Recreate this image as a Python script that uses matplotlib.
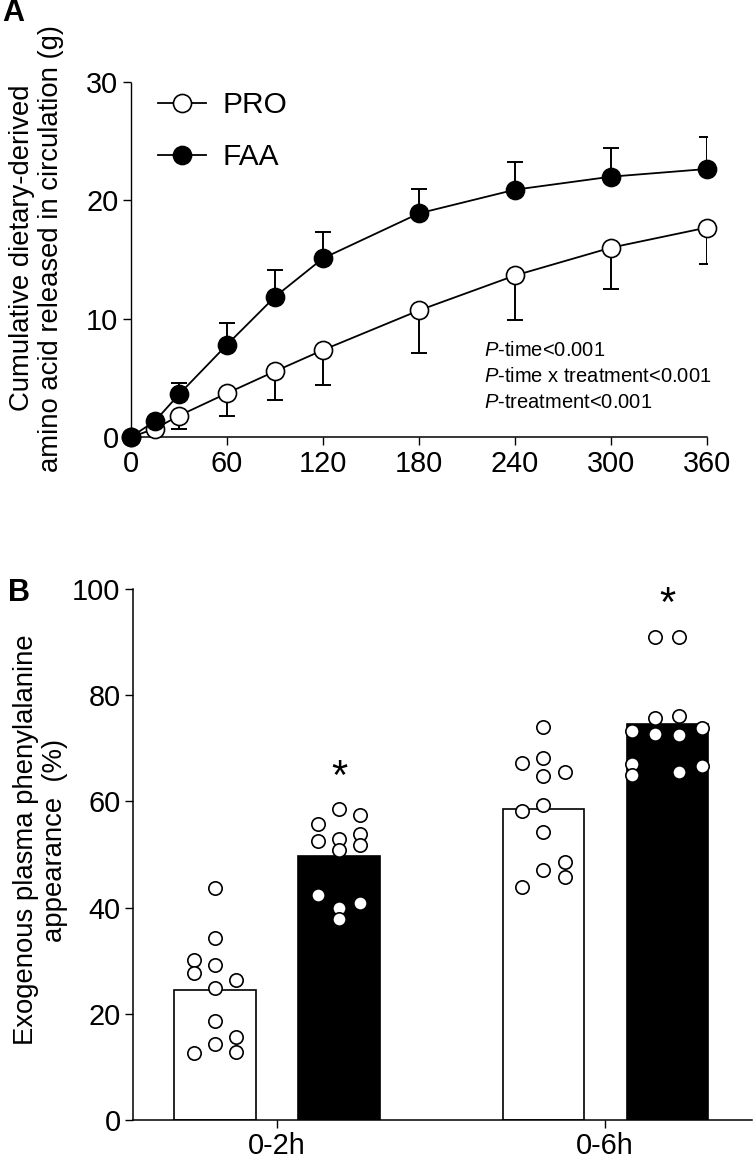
import matplotlib
matplotlib.use("Agg")
import matplotlib.pyplot as plt
import numpy as np

plt.rcParams["font.family"] = ["Liberation Sans", "DejaVu Sans"]
plt.rcParams["mathtext.fontset"] = "custom"
plt.rcParams["mathtext.rm"] = "Liberation Sans"
plt.rcParams["mathtext.it"] = "Liberation Sans:italic"

# ---------------------------------------------------------------------------
# Panel A data: cumulative amino acid release (g)
# ---------------------------------------------------------------------------
time_min = [0, 15, 30, 60, 90, 120, 180, 240, 300, 360]
pro_mean = [0, 0.7, 1.8, 3.7, 5.55, 7.35, 10.7, 13.65, 16.0, 17.7]
pro_sd = [0, 0, 1.1, 1.9, 2.45, 2.95, 3.6, 3.8, 3.5, 3.1]
faa_mean = [0, 1.35, 3.6, 7.8, 11.85, 15.1, 18.9, 20.9, 22.0, 22.65]
faa_sd = [0, 0, 1.0, 1.8, 2.3, 2.2, 2.1, 2.3, 2.45, 2.7]
p_text = ["-time<0.001", "-time x treatment<0.001", "-treatment<0.001"]

# ---------------------------------------------------------------------------
# Panel B data: exogenous plasma phenylalanine appearance (%)
# ---------------------------------------------------------------------------
periods = ["0-2h", "0-6h"]
pro_bar = [24.4, 58.6]
faa_bar = [49.8, 74.5]
pro_02 = [43.6, 34.3, 30.1, 29.1, 27.6, 26.4, 24.8, 18.7, 15.7, 14.3, 12.9, 12.6]
faa_02 = [58.5, 57.4, 55.8, 53.9, 52.5, 52.9, 51.7, 50.8, 42.3, 40.8, 40.0, 37.8]
pro_06 = [74.0, 68.2, 67.3, 65.5, 64.7, 59.3, 58.2, 54.2, 48.6, 47.0, 45.7, 43.8]
faa_06 = [91.0, 90.9, 76.0, 75.7, 73.9, 73.2, 72.6, 72.5, 67.0, 66.7, 65.5, 64.9]
star_y = [64.5, 97.0]

# swarm column slots (layout only)
slot_pro_02 = [0, 0, -1, 0, -1, 1, 0, 0, 1, 0, 1, -1]
slot_faa_02 = [0, 1, -1, 1, -1, 0, 1, 0, -1, 1, 0, 0]
slot_pro_06 = [0, 0, -1, 1, 0, 0, -1, 0, 1, 0, 1, -1]
slot_faa_06 = [-0.55, 0.55, 0.55, -0.55, 1.65, -1.65, -0.55, 0.55, -1.65, 1.65, 0.55, -1.65]

TICK_FS = 20.8
LABEL_FS = 19.8

fig = plt.figure(figsize=(7.53, 11.68), dpi=100)
W, H = 753, 1168


def px_axes(left, top, right, bottom):
    return fig.add_axes([left / W, 1 - bottom / H, (right - left) / W, (bottom - top) / H])


def style_axes(ax):
    for s in ["top", "right"]:
        ax.spines[s].set_visible(False)
    for s in ["left", "bottom"]:
        ax.spines[s].set_linewidth(1.1)
    ax.tick_params(width=1.0, length=6, labelsize=TICK_FS, pad=3, color="black")


# --------------------------- Panel A ----------------------------------------
axA = px_axes(131, 82, 707, 437)
style_axes(axA)
axA.spines["left"].set_linestyle((0, (3, 1)))
axA.spines["left"].set_linewidth(1.0)

axA.errorbar(time_min, faa_mean, yerr=[np.zeros(len(faa_sd)), faa_sd], fmt="none",
             ecolor="black", elinewidth=1.4, capsize=6, capthick=1.4, zorder=2)
axA.errorbar(time_min, pro_mean, yerr=[pro_sd, np.zeros(len(pro_sd))], fmt="none",
             ecolor="black", elinewidth=1.4, capsize=6, capthick=1.4, zorder=2)
axA.plot(time_min, pro_mean, "-o", color="black", lw=1.3, ms=13, mfc="white",
         mec="black", mew=1.2, clip_on=False, zorder=3, label="PRO")
axA.plot(time_min, faa_mean, "-o", color="black", lw=1.3, ms=13, mfc="black",
         mec="black", mew=1.2, clip_on=False, zorder=4, label="FAA")

axA.set_xlim(0, 360)
axA.set_ylim(0, 30)
axA.set_xticks([0, 60, 120, 180, 240, 300, 360])
axA.set_yticks([0, 10, 20, 30])
axA.legend(loc="upper left", bbox_to_anchor=(0.0, 1.05), frameon=False,
           fontsize=21.5, handlelength=1.6, handletextpad=0.55, labelspacing=0.8)

for i, t in enumerate(p_text):
    axA.text(0.612, 0.243 - i * 0.073, r"$\mathit{P}$" + t, transform=axA.transAxes,
             fontsize=14.5, ha="left", va="center")

fig.text(37 / W, 1 - 248 / H, "Cumulative dietary-derived\namino acid released in circulation (g)",
         rotation=90, ha="center", va="center", fontsize=LABEL_FS, linespacing=1.15)
fig.text(2 / W, 1 - 13 / H, "A", fontsize=22, fontweight="bold", ha="left", va="center")

# --------------------------- Panel B ----------------------------------------
axB = px_axes(133, 589, 752, 1120)
style_axes(axB)
x = np.arange(len(periods))
off = 0.189
bw = 0.247
axB.bar(x - off, pro_bar, width=bw, color="white", edgecolor="black", linewidth=1.2, zorder=1)
axB.bar(x + off, faa_bar, width=bw, color="black", edgecolor="black", linewidth=1.2, zorder=1)

step = 0.0655
groups = [
    (x[0] - off, pro_02, slot_pro_02),
    (x[0] + off, faa_02, slot_faa_02),
    (x[1] - off, pro_06, slot_pro_06),
    (x[1] + off, faa_06, slot_faa_06),
]
for xc, vals, slots in groups:
    axB.plot(xc + np.array(slots) * step, vals, "o", ms=9.6, mfc="white", mec="black",
             mew=1.2, zorder=3, clip_on=False)

for xi, sy in zip(x + off, star_y):
    axB.text(xi, sy, "*", fontsize=30, ha="center", va="center")

axB.set_xlim(-0.439, 1.448)
axB.set_ylim(0, 100)
axB.set_xticks(x)
axB.set_xticklabels(periods)
axB.set_yticks([0, 20, 40, 60, 80, 100])

fig.text(41 / W, 1 - 840 / H, "Exogenous plasma phenylalanine\nappearance  (%)",
         rotation=90, ha="center", va="center", fontsize=LABEL_FS, linespacing=1.15)
fig.text(8 / W, 1 - 593 / H, "B", fontsize=22, fontweight="bold", ha="left", va="center")

fig.savefig("out.png", dpi=100)
